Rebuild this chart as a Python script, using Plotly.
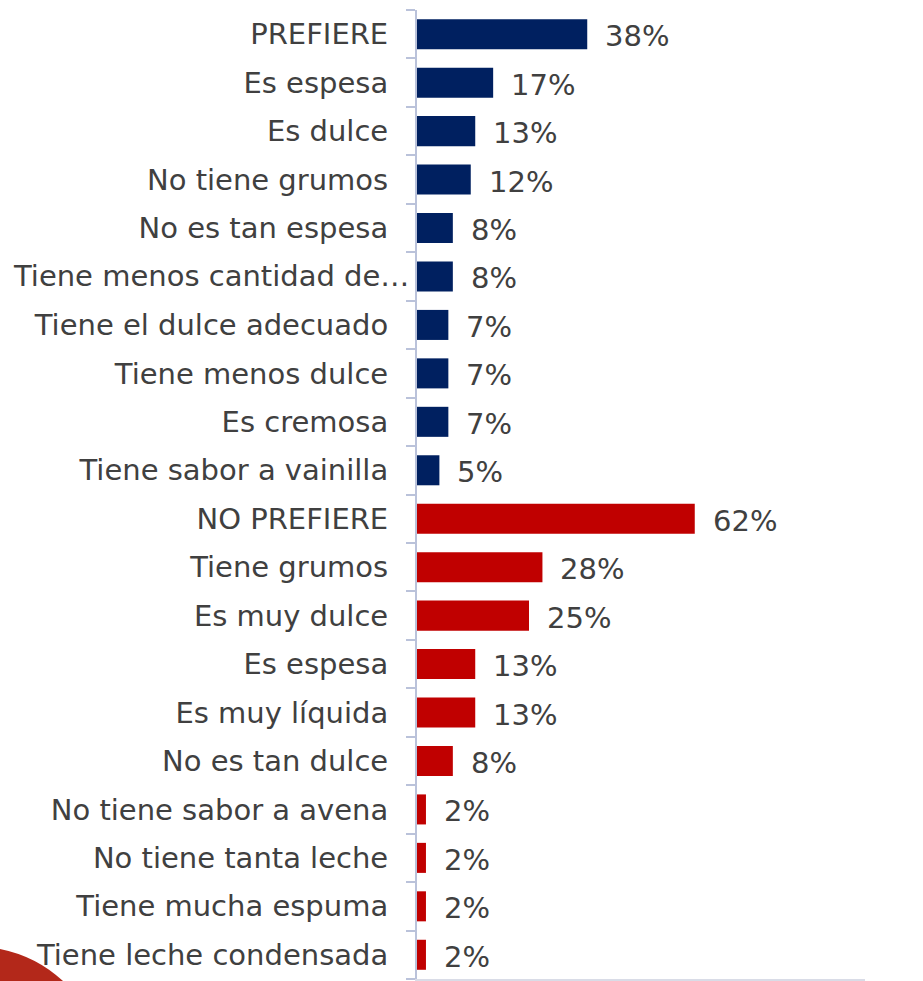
import plotly.graph_objects as go

# Survey reasons: why the drink is / is not preferred (share of respondents)
prefiere_labels = [
    "PREFIERE", "Es espesa", "Es dulce", "No tiene grumos", "No es tan espesa",
    "Tiene menos cantidad de…", "Tiene el dulce adecuado", "Tiene menos dulce",
    "Es cremosa", "Tiene sabor a vainilla",
]
prefiere_values = [0.38, 0.17, 0.13, 0.12, 0.08, 0.08, 0.07, 0.07, 0.07, 0.05]

no_prefiere_labels = [
    "NO PREFIERE", "Tiene grumos", "Es muy dulce", "Es espesa", "Es muy líquida",
    "No es tan dulce", "No tiene sabor a avena", "No tiene tanta leche",
    "Tiene mucha espuma", "Tiene leche condensada",
]
no_prefiere_values = [0.62, 0.28, 0.25, 0.13, 0.13, 0.08, 0.02, 0.02, 0.02, 0.02]

NAVY = "#002060"
RED = "#C00000"
TEXT = "#404040"
AXIS = "#BAC2DA"
FONT = "DejaVu Sans, Verdana, sans-serif"

W, H = 923, 981
L, R, T, B = 417, 58, 10, 2

labels_all = prefiere_labels + no_prefiere_labels
n = len(labels_all)
pos = list(range(n))  # row index, top to bottom

# the truncated label runs past the others, up to the axis; draw it separately
long_label = "Tiene menos cantidad de…"
ticktext = ["" if t == long_label else t for t in labels_all]

fig = go.Figure()
offset = 0
for labels, values, color in [
    (prefiere_labels, prefiere_values, NAVY),
    (no_prefiere_labels, no_prefiere_values, RED),
]:
    rows = pos[offset:offset + len(labels)]
    offset += len(labels)
    fig.add_trace(go.Bar(
        x=values, y=rows, orientation="h",
        marker=dict(color=color, line=dict(width=0)),
        showlegend=False, hoverinfo="skip",
    ))
    # value labels just right of each bar
    for r, v in zip(rows, values):
        fig.add_annotation(
            x=v, y=r, text=f"{round(v * 100)}%", showarrow=False,
            xanchor="left", yanchor="middle", xshift=16, yshift=-2,
            font=dict(family=FONT, size=29, color=TEXT),
        )

pw, ph = W - L - R, H - T - B
def px(x):
    return (x - L) / pw
def py(y):
    return (H - B - y) / ph

fig.add_annotation(
    x=px(411), xref="paper", y=labels_all.index(long_label), yref="y",
    text=long_label, showarrow=False, xanchor="right", yanchor="middle",
    font=dict(family=FONT, size=29, color=TEXT),
)

# decorative corner swoosh
path = (f"M {px(-5)},{py(948)} Q {px(34.5)},{py(954.5)} {px(63)},{py(981)} "
        f"L {px(70)},{py(995)} L {px(-5)},{py(995)} Z")
fig.add_shape(type="path", path=path, xref="paper", yref="paper",
              fillcolor="#B3281A", line=dict(width=0), layer="below")

fig.update_layout(
    width=W, height=H,
    margin=dict(l=L, r=R, t=T, b=B, autoexpand=False),
    paper_bgcolor="white", plot_bgcolor="white",
    bargap=0.38,
    font=dict(family=FONT, size=29, color=TEXT),
    xaxis=dict(
        range=[0, 1.0], showticklabels=False, showgrid=False, zeroline=False,
        showline=True, linecolor="#D9DCE7", linewidth=2, ticks="",
        fixedrange=True,
    ),
    yaxis=dict(
        range=[n - 0.5, -0.5], automargin=False,
        showgrid=False, zeroline=False,
        showline=True, linecolor=AXIS, linewidth=2,
        tickmode="array", tickvals=pos, ticktext=ticktext,
        ticks="outside", ticklen=9, tickcolor="rgba(0,0,0,0)",
        ticklabelstandoff=12,
        tickfont=dict(family=FONT, size=29, color=TEXT),
        minor=dict(
            tickmode="array", tickvals=[i - 0.5 for i in range(n + 1)],
            ticks="outside", ticklen=9, tickwidth=2, tickcolor=AXIS,
            showgrid=False,
        ),
    ),
)

fig.write_html("out.html")
